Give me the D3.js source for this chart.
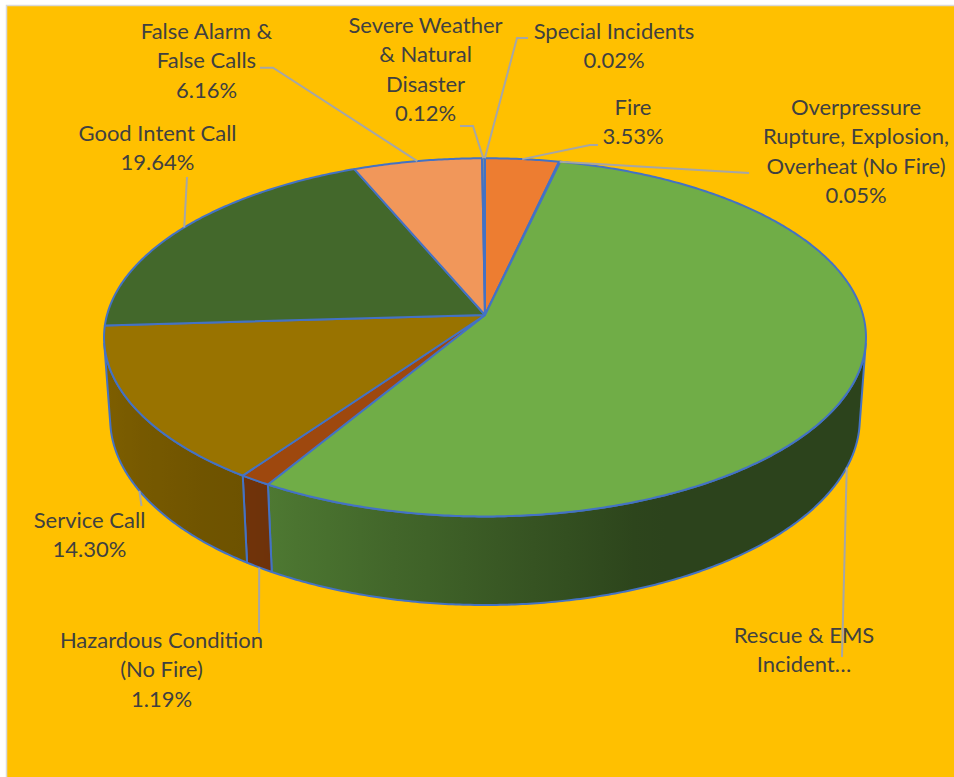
<!DOCTYPE html>
<html><head><meta charset="utf-8">
<script src="https://cdn.jsdelivr.net/npm/d3@7"></script>
<style>html,body{margin:0;padding:0;background:#fff;} svg{display:block;}</style>
</head><body>
<script>
// ---- data ----
const categories = ["Fire", "Overpressure Rupture, Explosion, Overheat (No Fire)", "Rescue & EMS Incident", "Hazardous Condition (No Fire)", "Service Call", "Good Intent Call", "False Alarm & False Calls", "Severe Weather & Natural Disaster", "Special Incidents"];
const percentages = [3.53, 0.05, 54.99, 1.19, 14.30, 19.64, 6.16, 0.12, 0.02];
const labelNames = [["Fire"], ["Overpressure", "Rupture, Explosion,", "Overheat (No Fire)"], ["Rescue & EMS", "Incident…"], ["Hazardous Condition", "(No Fire)"], ["Service Call"], ["Good Intent Call"], ["False Alarm &", "False Calls"], ["Severe Weather", "& Natural", "Disaster"], ["Special Incidents"]];
const showPercent = [true, true, false, true, true, true, true, true, true];
const colors = ["#ED7D31", "#FFC000", "#70AD47", "#9E480E", "#997300", "#43682B", "#F1975A", "#FFCD33", "#8CC168"];

// ---- layout ----
const labelPos = [[633, 115], [856, 115], [804, 643], [161.5, 648], [89.5, 528], [157.5, 141], [206.5, 39], [425.5, 33], [614, 39]];
const leaderStart = [[[598, 145], [590, 145]], [[749, 173]], [[842, 657]], [[259, 633]], [[141.5, 506]], [[187, 177]], [[260, 67.7], [273, 67.7]], [[460, 126], [473, 126]], [[528, 38], [517, 38]]];

const W = 954, H = 777;
const cx = 485, cy = 315, f = 2680, Dist = 7.09, phi = Math.asin(0.4664), DEPTH = 0.2459;
const edge = "#4472C4";

function proj(theta, y) {
  const X = Math.sin(theta), Z = Math.cos(theta);
  const depth = -y * Math.sin(phi) + Z * Math.cos(phi) + Dist;
  const up = y * Math.cos(phi) + Z * Math.sin(phi);
  return [cx + f * X / depth, cy - f * up / depth];
}
function arcPts(a0, a1, y) {
  const n = Math.max(2, Math.ceil(Math.abs(a1 - a0) / (Math.PI / 360)));
  return d3.range(n + 1).map(i => proj(a0 + (a1 - a0) * i / n, y));
}
const shade = d3.scaleLinear().domain([0, 158, 180, 211, 235, 262, 360]).range([0.39, 0.39, 0.52, 0.70, 0.77, 0.84, 0.84]).clamp(true);
function shadeColor(c, s) { const r = d3.rgb(c); return d3.rgb(r.r * s, r.g * s, r.b * s).formatHex(); }

const svg = d3.select("body").append("svg").attr("width", W).attr("height", H);
svg.append("rect").attr("x", 6.5).attr("y", 5.5).attr("width", W).attr("height", H)
  .attr("fill", "#FFC000").attr("stroke", "#D9D9D9").attr("stroke-width", 1.5);

const pie = d3.pie().sort(null).value(d => d).startAngle(0).endAngle(2 * Math.PI)(percentages);
const defs = svg.append("defs");
const vis0 = Math.acos(-1 / (Dist * Math.cos(phi))), vis1 = 2 * Math.PI - vis0;
const wallG = svg.append("g"), topG = svg.append("g");
const line = d3.line();

pie.forEach((p, i) => {
  const a0 = Math.max(p.startAngle, vis0), a1 = Math.min(p.endAngle, vis1);
  if (a1 > a0) {
    const top = arcPts(a0, a1, 0), bot = arcPts(a1, a0, -DEPTH);
    const xs = top.map(d => d[0]);
    const xmin = d3.min(xs), xmax = d3.max(xs) + 0.01;
    const g = defs.append("linearGradient").attr("id", "w" + i).attr("gradientUnits", "userSpaceOnUse")
      .attr("x1", xmin).attr("x2", xmax).attr("y1", 0).attr("y2", 0);
    const n = 24;
    const stops = d3.range(n + 1).map(k => {
      const t = a0 + (a1 - a0) * k / n;
      const x = proj(t, 0)[0];
      return { o: Math.max(0, Math.min(1, (x - xmin) / (xmax - xmin))), c: shadeColor(colors[i], shade(t * 180 / Math.PI)) };
    }).sort((a, b) => a.o - b.o);
    stops.forEach(s => g.append("stop").attr("offset", s.o).attr("stop-color", s.c));
    wallG.append("path").attr("d", line(top.concat(bot)) + "Z")
      .attr("fill", "url(#w" + i + ")").attr("stroke", edge).attr("stroke-width", 2).attr("stroke-linejoin", "round");
  }
  topG.append("path").attr("d", line([[cx, cy]].concat(arcPts(p.startAngle, p.endAngle, 0))) + "Z")
    .attr("fill", colors[i]).attr("stroke", edge).attr("stroke-width", 2).attr("stroke-linejoin", "round");
});

// labels
const fmt = d3.format(".2f");
const labG = svg.append("g").attr("font-family", "Lato, 'Open Sans', sans-serif").attr("font-size", 22).attr("fill", "#404040").attr("text-anchor", "middle");
pie.forEach((p, i) => {
  const lines = labelNames[i].concat(showPercent[i] ? [fmt(percentages[i]) + "%"] : []);
  lines.forEach((t, k) => {
    labG.append("text").attr("x", labelPos[i][0]).attr("y", labelPos[i][1] + k * 29.3).text(t);
  });
});
// leader lines
const leadG = svg.append("g");
pie.forEach((p, i) => {
  const mid = (p.startAngle + p.endAngle) / 2;
  const anchor = (mid > vis0 && mid < vis1) ? proj(mid, -DEPTH) : proj(mid, 0);
  leadG.append("path").attr("d", line(leaderStart[i].concat([anchor])))
    .attr("fill", "none").attr("stroke", "#A6A6A6").attr("stroke-width", 2);
});
</script>
</body></html>
